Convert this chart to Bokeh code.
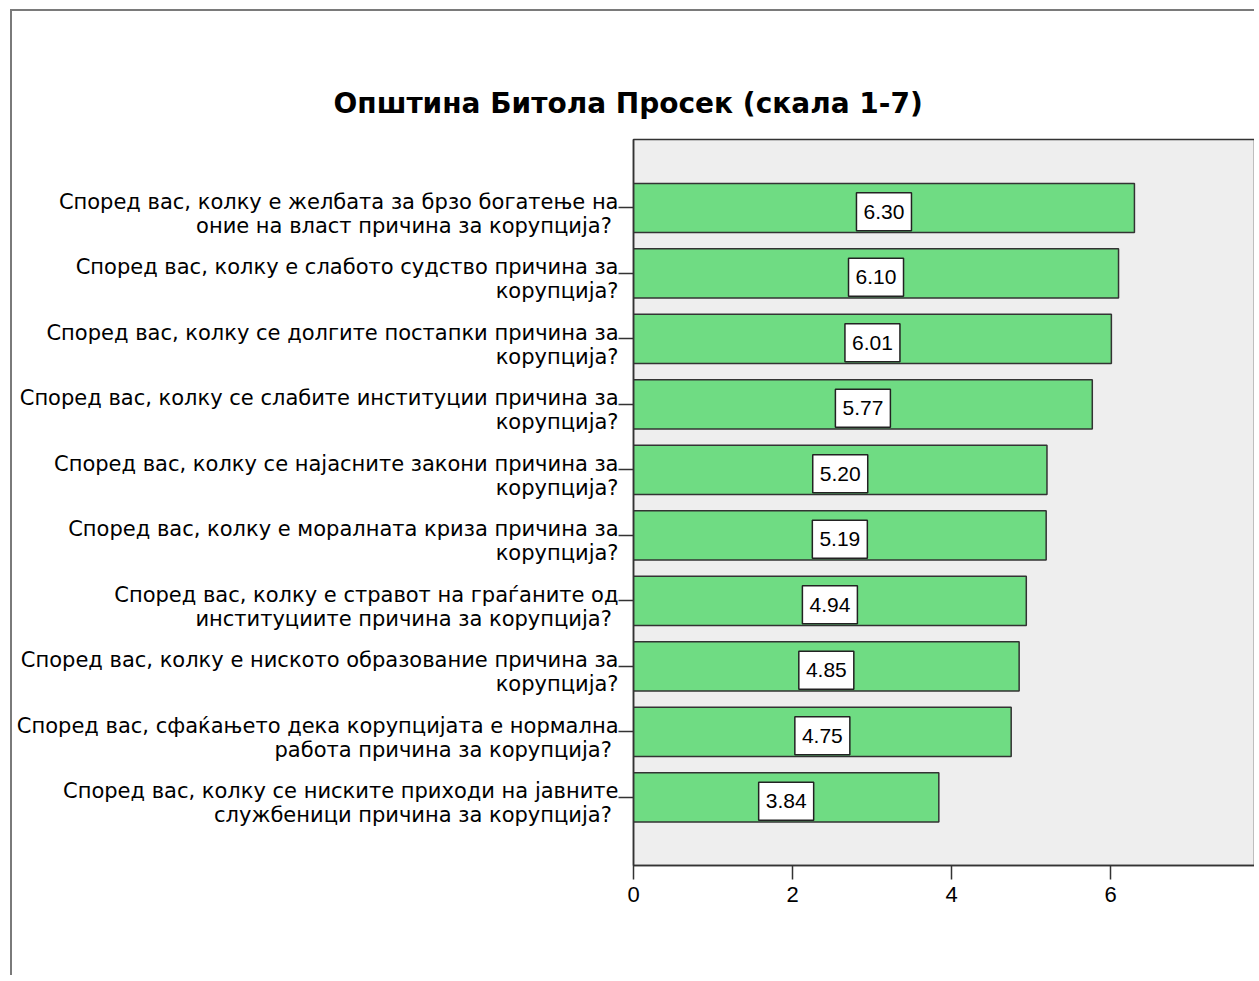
from bokeh.plotting import figure
from bokeh.models import Range1d, FixedTicker, ColumnDataSource, LinearAxis
from bokeh.transform import dodge
from bokeh.core.properties import value
from bokeh.embed import file_html
from bokeh.resources import INLINE

title_text = "Општина Битола Просек (скала 1-7)"

categories = [
    "Според вас, колку е желбата за брзо богатење на\nоние на власт причина за  корупција?",
    "Според вас, колку е слабото судство причина за\nкорупција?",
    "Според вас, колку се долгите постапки причина за\nкорупција?",
    "Според вас, колку се слабите институции причина за\nкорупција?",
    "Според вас, колку се најасните закони причина за\nкорупција?",
    "Според вас, колку е моралната криза причина за\nкорупција?",
    "Според вас, колку е стравот на граѓаните од\nинституциите причина за  корупција?",
    "Според вас, колку е ниското образование причина за\nкорупција?",
    "Според вас, сфаќањето дека корупцијата е нормална\nработа причина за  корупција?",
    "Според вас, колку се ниските приходи на јавните\nслужбеници причина за  корупција?",
]
values = [6.30, 6.10, 6.01, 5.77, 5.20, 5.19, 4.94, 4.85, 4.75, 3.84]
x_ticks = [0, 2, 4, 6]

FONT = "Liberation Sans"
LFONT = "DejaVu Sans"

pos = list(range(len(categories)))
src = ColumnDataSource(dict(
    y=pos,
    right=values,
    mid=[v / 2 for v in values],
    lab=["%.2f" % v for v in values],
))

y_lo, y_hi = len(categories) - 1 + 1.04, -1.045
lab_shift = 0.09

p = figure(
    width=1244, height=966,
    output_backend="svg", toolbar_location=None,
    x_range=Range1d(0, 7.81),
    y_range=Range1d(start=y_lo, end=y_hi),
    min_border_left=621, min_border_top=128, min_border_right=2, min_border_bottom=112,
    background_fill_color="#EEEEEE", border_fill_color="white",
    styles={"border-left": "2px solid #7a7a7a", "border-top": "2px solid #7a7a7a",
            "margin-left": "10px", "margin-top": "9px"},
)
p.extra_y_ranges = {"lab": Range1d(start=y_lo - lab_shift, end=y_hi - lab_shift)}

p.title.text = title_text
p.title.text_font = LFONT
p.title.text_font_size = "28px"
p.title.text_font_style = "bold"
p.title.text_color = "black"
p.title.align = "left"
p.title.offset = -300
p.title.standoff = 39

p.outline_line_color = "#333333"
p.outline_line_width = 1.5
p.grid.visible = False

p.hbar(y="y", left=0, right="right", height=0.75, source=src,
       fill_color="#6FDC83", line_color="#333333", line_width=1.5)

p.rect(x="mid", y=dodge("y", 0.06, range=p.y_range), width=55, height=38,
       width_units="screen", height_units="screen", source=src,
       fill_color="white", line_color="#222222", line_width=1.5)
p.text(x="mid", y=dodge("y", 0.06, range=p.y_range), text="lab", source=src,
       text_align="center", text_baseline="middle",
       text_font=value(FONT), text_font_size="21px", text_color="black")

xa = p.xaxis[0]
xa.ticker = FixedTicker(ticks=x_ticks)
xa.major_tick_out = 14
xa.major_tick_in = 0
xa.minor_tick_line_color = None
xa.axis_line_color = "#333333"
xa.axis_line_width = 1.5
xa.major_tick_line_color = "#333333"
xa.major_tick_line_width = 1.5
xa.major_label_text_font = FONT
xa.major_label_text_font_size = "22px"
xa.major_label_text_color = "black"
xa.major_label_standoff = 7

# tick marks only
ya = p.yaxis[0]
ya.ticker = FixedTicker(ticks=pos)
ya.major_label_overrides = {i: "" for i in pos}
ya.major_label_text_font_size = "0px"
ya.major_label_standoff = 0
ya.major_tick_out = 15
ya.major_tick_in = 0
ya.minor_tick_line_color = None
ya.axis_line_color = "#333333"
ya.axis_line_width = 1.5
ya.major_tick_line_color = "#333333"
ya.major_tick_line_width = 1.5

# category labels
ya2 = LinearAxis(y_range_name="lab", ticker=FixedTicker(ticks=pos))
ya2.major_label_overrides = {i: c for i, c in enumerate(categories)}
ya2.major_tick_out = 0
ya2.major_tick_in = 0
ya2.minor_tick_line_color = None
ya2.major_tick_line_color = None
ya2.axis_line_color = None
ya2.major_label_text_font = LFONT
ya2.major_label_text_font_size = "21px"
ya2.major_label_text_line_height = 1.0
ya2.major_label_text_color = "black"
ya2.major_label_standoff = 0
p.add_layout(ya2, "left")

open("out.html", "w").write(file_html(p, INLINE))
